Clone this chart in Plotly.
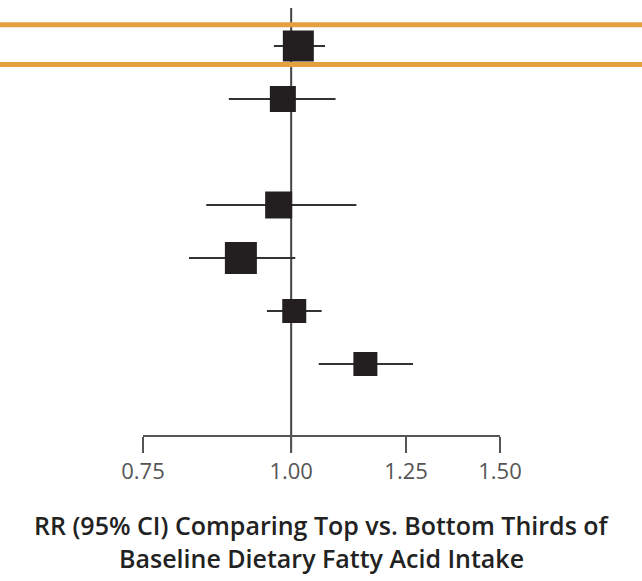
import plotly.graph_objects as go

# Data (log-scale relative risks)
rows = [0, 1, 3, 4, 5, 6]            # row index (top to bottom)
rr = [1.014, 0.984, 0.976, 0.907, 1.006, 1.155]
ci_low = [0.967, 0.886, 0.848, 0.820, 0.954, 1.055]
ci_high = [1.068, 1.090, 1.135, 1.008, 1.061, 1.267]
weights = [31, 26, 27, 32, 24, 24]   # box size (study weight)
tick_vals = [0.75, 1.00, 1.25, 1.50]
tick_text = ["0.75", "1.00", "1.25", "1.50"]
highlight_row = 0
x_title = ["RR (95% CI) Comparing Top vs. Bottom Thirds of",
           "Baseline Dietary Fatty Acid Intake"]

W, H = 642, 581
ml, mr, mt, mb = 143, 142, 8, 146
plot_h = H - mt - mb
row_px = 53.0
top_row_px = 46 - mt
y_top = -top_row_px / row_px
y_bot = (plot_h - top_row_px) / row_px

fig = go.Figure()
fig.add_trace(go.Scatter(
    x=rr, y=rows, mode="markers",
    marker=dict(symbol="square", size=weights, color="#231F20", opacity=1,
                line=dict(width=0)),
    error_x=dict(type="data", symmetric=False,
                 array=[h - v for h, v in zip(ci_high, rr)],
                 arrayminus=[v - l for v, l in zip(rr, ci_low)],
                 color="#333333", thickness=2, width=0),
    showlegend=False, hoverinfo="skip",
))

shapes = [
    dict(type="line", xref="x", yref="paper", x0=1, x1=1,
         y0=-(17 / plot_h), y1=1, line=dict(color="#444444", width=2), layer="below"),
]
for off in (-0.40, 0.35):
    yy = highlight_row + off
    shapes.append(dict(type="line", xref="paper", yref="y", x0=-1, x1=2, y0=yy, y1=yy,
                       line=dict(color="#E4A03E", width=5), layer="above"))

annotations = []
for i, t in enumerate(x_title):
    ypx = 525 + i * 33
    annotations.append(dict(text=t, xref="paper", yref="paper", x=0.5,
                            y=-(ypx - (H - mb)) / plot_h, xanchor="center", yanchor="middle",
                            showarrow=False,
                            font=dict(family="Open Sans", size=25, color="#222222",
                                      weight=600)))

fig.update_layout(
    width=W, height=H,
    margin=dict(l=ml, r=mr, t=mt, b=mb, pad=0),
    paper_bgcolor="white", plot_bgcolor="white",
    xaxis=dict(type="log", range=[-0.124938737, 0.176091259],
               tickvals=tick_vals, ticktext=tick_text,
               showgrid=False, zeroline=False,
               showline=True, linecolor="#555555", linewidth=2,
               ticks="outside", ticklen=16, tickwidth=2, tickcolor="#555555",
               tickfont=dict(family="Open Sans", size=22, color="#555555")),
    yaxis=dict(range=[y_bot, y_top], visible=False, showgrid=False, zeroline=False),
    shapes=shapes, annotations=annotations,
)

fig.write_html("out.html", config={"displayModeBar": False},
               post_script="document.body.style.margin='0';")
